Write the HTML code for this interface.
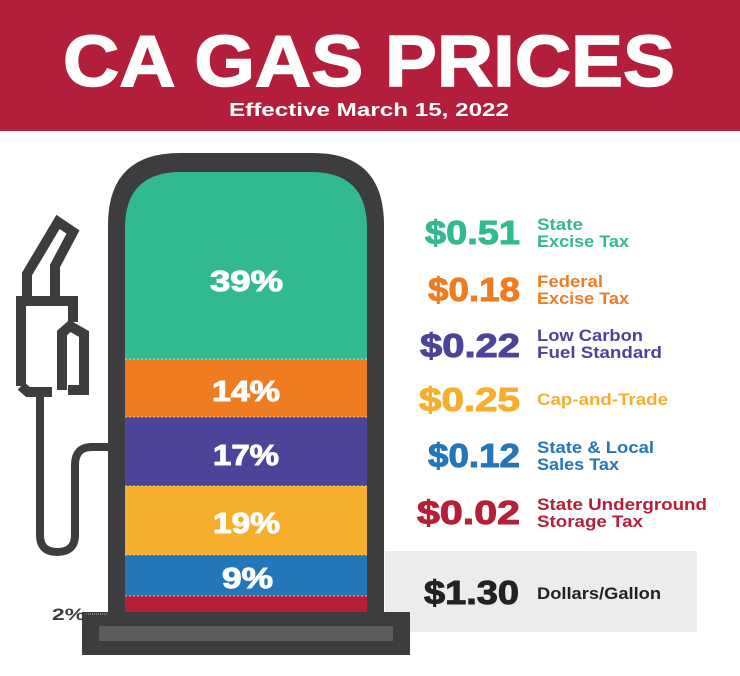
<!DOCTYPE html>
<html><head><meta charset="utf-8"><style>
html,body{margin:0;padding:0;background:#fff;}
svg{display:block;}
text{font-family:"Liberation Sans",sans-serif;font-weight:bold;}
</style></head><body>
<svg width="740" height="676" viewBox="0 0 740 676" xmlns="http://www.w3.org/2000/svg">
<rect x="0" y="0" width="740" height="131" fill="#b31f3a"/>
<text x="369" y="86" font-size="72" fill="#fff" stroke="#fff" stroke-width="1.5" text-anchor="middle" textLength="612" lengthAdjust="spacingAndGlyphs">CA GAS PRICES</text>
<text x="369" y="116" font-size="18" fill="#fff" text-anchor="middle" textLength="280" lengthAdjust="spacingAndGlyphs">Effective March 15, 2022</text>

<rect x="385" y="551" width="312" height="81" fill="#ececec"/>

<path d="M108,612 L108,225 Q108,153 180,153 L313,153 Q384,153 384,225 L384,612 Z" fill="#3d3d3f"/>
<clipPath id="ci"><path d="M125,612 L125,228 Q125,172 181,172 L311,172 Q367,172 367,228 L367,612 Z"/></clipPath>
<g clip-path="url(#ci)">
<rect x="120" y="165" width="255" height="194" fill="#33b98f"/>
<rect x="120" y="359" width="255" height="58" fill="#f07c22"/>
<rect x="120" y="417" width="255" height="69" fill="#4b4499"/>
<rect x="120" y="486" width="255" height="69" fill="#f6ae2d"/>
<rect x="120" y="555" width="255" height="41" fill="#2376b8"/>
<rect x="120" y="596" width="255" height="16" fill="#b51f38"/>
</g>
<g stroke="#fff" stroke-width="1" stroke-dasharray="2,2" opacity="0.6">
<line x1="125" y1="359" x2="367" y2="359"/><line x1="125" y1="417" x2="367" y2="417"/>
<line x1="125" y1="486" x2="367" y2="486"/><line x1="125" y1="555" x2="367" y2="555"/>
<line x1="125" y1="596" x2="367" y2="596"/>
</g>
<rect x="82" y="612" width="328" height="43" fill="#3d3d3f"/>
<rect x="99" y="626" width="294" height="15" fill="#5b5c5e"/>

<g fill="#fff" stroke="#fff" stroke-width="1" font-size="29">
<text x="210" y="291" textLength="73" lengthAdjust="spacingAndGlyphs">39%</text>
<text x="212" y="401" textLength="68" lengthAdjust="spacingAndGlyphs">14%</text>
<text x="213" y="465" textLength="66" lengthAdjust="spacingAndGlyphs">17%</text>
<text x="213" y="533" textLength="67" lengthAdjust="spacingAndGlyphs">19%</text>
<text x="222" y="588" textLength="51" lengthAdjust="spacingAndGlyphs">9%</text>
</g>
<text x="52" y="620" font-size="17" fill="#3d3d3f" textLength="33" lengthAdjust="spacingAndGlyphs">2%</text>
<line x1="86" y1="614" x2="108" y2="614" stroke="#aaa" stroke-width="1" stroke-dasharray="1,1"/>

<g fill="none" stroke="#3d3d3f" stroke-width="10" stroke-linejoin="miter">
<path d="M27,300 L27,274 L58,222 L73,232 L55,266 L55,300"/>
<path d="M21,386 L21,301 L73,301 L73,322"/>
<path d="M21,386 L28,392 L52,392"/>
<path d="M62,390 L62,333 L70,326 L84,334 L84,390 L68,390"/>
<path d="M40,392 L40,535 Q40,552 57,552 Q75,552 75,535 L75,465 Q75,447 92,447 L108,447" stroke-width="8"/>
</g>

<g font-size="33" stroke-width="1">
<text x="425" y="244" fill="#33b98f" stroke="#33b98f" textLength="95" lengthAdjust="spacingAndGlyphs">$0.51</text>
<text x="428" y="301" fill="#f07c22" stroke="#f07c22" textLength="92" lengthAdjust="spacingAndGlyphs">$0.18</text>
<text x="420" y="357" fill="#4b4499" stroke="#4b4499" textLength="100" lengthAdjust="spacingAndGlyphs">$0.22</text>
<text x="419" y="411" fill="#f6ae2d" stroke="#f6ae2d" textLength="101" lengthAdjust="spacingAndGlyphs">$0.25</text>
<text x="428" y="467" fill="#2376b8" stroke="#2376b8" textLength="92" lengthAdjust="spacingAndGlyphs">$0.12</text>
<text x="417" y="524" fill="#b51f38" stroke="#b51f38" textLength="103" lengthAdjust="spacingAndGlyphs">$0.02</text>
<text x="424" y="604" fill="#222" stroke="#222" textLength="95" lengthAdjust="spacingAndGlyphs">$1.30</text>
</g>
<g font-size="16.5">
<text x="537" y="230" fill="#33b98f" textLength="46" lengthAdjust="spacingAndGlyphs">State</text>
<text x="537" y="247" fill="#33b98f" textLength="92" lengthAdjust="spacingAndGlyphs">Excise Tax</text>
<text x="537" y="287" fill="#f07c22" textLength="66" lengthAdjust="spacingAndGlyphs">Federal</text>
<text x="537" y="304" fill="#f07c22" textLength="92" lengthAdjust="spacingAndGlyphs">Excise Tax</text>
<text x="537" y="341" fill="#4b4499" textLength="106" lengthAdjust="spacingAndGlyphs">Low Carbon</text>
<text x="537" y="358" fill="#4b4499" textLength="125" lengthAdjust="spacingAndGlyphs">Fuel Standard</text>
<text x="537" y="405" fill="#f6ae2d" textLength="131" lengthAdjust="spacingAndGlyphs">Cap-and-Trade</text>
<text x="537" y="453" fill="#2376b8" textLength="117" lengthAdjust="spacingAndGlyphs">State &amp; Local</text>
<text x="537" y="470" fill="#2376b8" textLength="82" lengthAdjust="spacingAndGlyphs">Sales Tax</text>
<text x="537" y="510" fill="#b51f38" textLength="170" lengthAdjust="spacingAndGlyphs">State Underground</text>
<text x="537" y="527" fill="#b51f38" textLength="106" lengthAdjust="spacingAndGlyphs">Storage Tax</text>
<text x="537" y="599" fill="#222" textLength="124" lengthAdjust="spacingAndGlyphs">Dollars/Gallon</text>
</g>
</svg>
</body></html>
